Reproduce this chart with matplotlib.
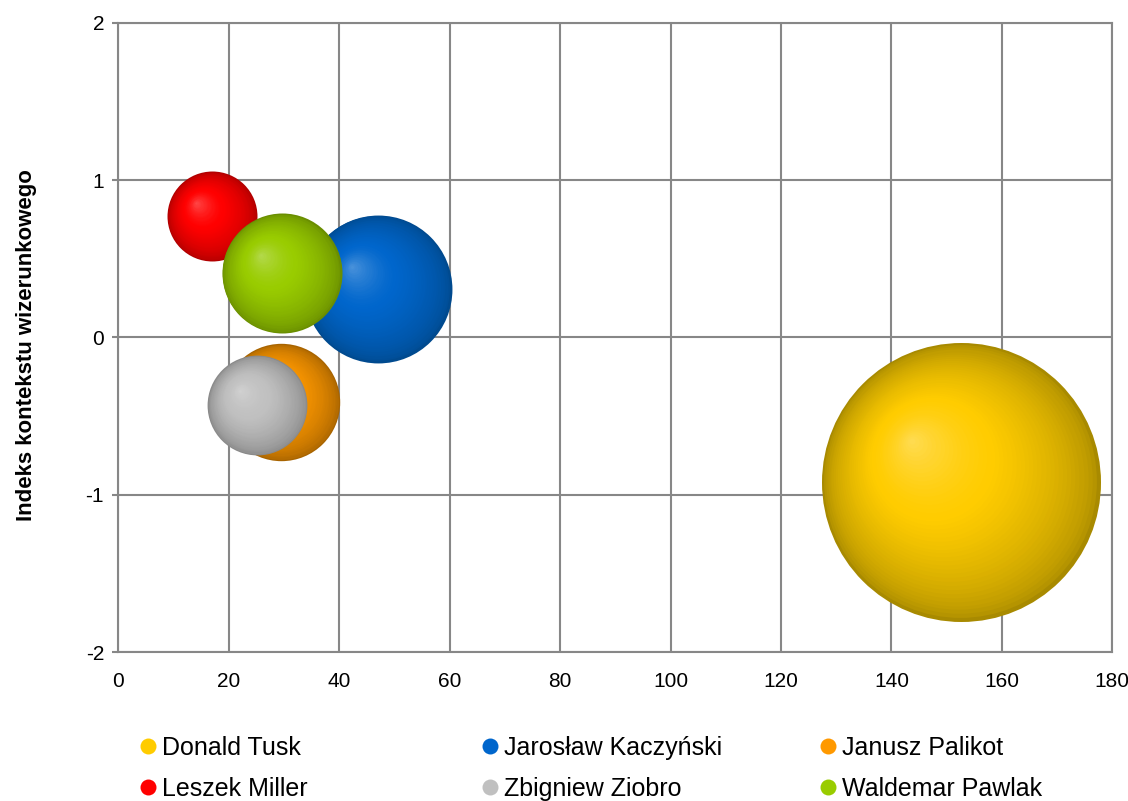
import numpy as np
import matplotlib
matplotlib.use("Agg")
import matplotlib.pyplot as plt
import matplotlib.transforms as mtransforms
from matplotlib.colors import to_rgb
from matplotlib.lines import Line2D

plt.rcParams['font.family'] = ['Liberation Sans', 'DejaVu Sans']
plt.rcParams['axes.unicode_minus'] = False

# Data
names = ["Donald Tusk", "Jarosław Kaczyński", "Janusz Palikot",
         "Leszek Miller", "Zbigniew Ziobro", "Waldemar Pawlak"]
x_vals = [152.6, 47.0, 29.5, 17.0, 25.2, 29.6]
y_vals = [-0.92, 0.31, -0.41, 0.77, -0.43, 0.41]
bubble_sizes = [100.0, 28.1, 17.7, 10.4, 12.8, 18.5]

# base / edge / highlight colours per series
base_colors = ["#FFCC00", "#0066CC", "#FF9900", "#FF0000", "#C0C0C0", "#99CC00"]
edge_colors = ["#A88A00", "#004A8F", "#A86400", "#B00000", "#8A8A8A", "#6A8E00"]
high_colors = ["#FFDC55", "#4D94DB", "#F0A030", "#FF4A4A", "#D2D2D2", "#B5DA50"]

DPI = 100
fig = plt.figure(figsize=(11.28, 8.01), dpi=DPI)
ax = fig.add_axes([0.1049, 0.1857, 0.8812, 0.786])

ax.set_xlim(0, 180)
ax.set_ylim(-2, 2)
ax.set_xticks(np.arange(0, 181, 20))
ax.set_yticks([-2, -1, 0, 1, 2])

grid_col = "#878787"
ax.grid(True, color=grid_col, linewidth=1.5)
ax.set_axisbelow(True)
for sp in ax.spines.values():
    sp.set_color(grid_col)
    sp.set_linewidth(1.5)
ax.tick_params(axis='y', length=4.3, width=1.5, color=grid_col, pad=6, labelsize=15)
ax.tick_params(axis='x', length=0, pad=14, labelsize=15)

ax.set_ylabel("Indeks kontekstu wizerunkowego", fontsize=16, fontweight='bold')
ax.yaxis.set_label_coords(-0.082, 0.488)


def blend(c1, c2, t):
    a = np.array(to_rgb(c1))
    b = np.array(to_rgb(c2))
    return tuple(a + (b - a) * t)


# largest bubble radius in pixels
R_MAX_PX = 139.5
n_layers = 45
for i in range(len(names)):
    r_px = R_MAX_PX * np.sqrt(bubble_sizes[i] / 100.0)
    hx, hy = -0.36 * r_px, 0.30 * r_px  # highlight offset (px, up positive)
    for k in range(n_layers):
        t = k / n_layers
        rad = r_px * (1 - t)
        if t < 0.55:
            col = blend(edge_colors[i], base_colors[i], (t / 0.55) ** 0.6)
        else:
            col = blend(base_colors[i], high_colors[i], ((t - 0.55) / 0.45) ** 1.5)
        off = mtransforms.ScaledTranslation(t * hx / DPI, t * hy / DPI,
                                            fig.dpi_scale_trans)
        d_pt = 2 * rad * 72 / DPI
        ax.scatter([x_vals[i]], [y_vals[i]], s=d_pt ** 2, color=col,
                   linewidths=0, transform=ax.transData + off, zorder=3)

# Legend in three columns
handles = [Line2D([], [], marker='o', linestyle='none', markersize=11.5,
                  markerfacecolor=c, markeredgewidth=0) for c in base_colors]
col_x = [0.1127, 0.4157, 0.7157]
for j in range(3):
    idx = [j, j + 3]
    fig.legend([handles[k] for k in idx], [names[k] for k in idx],
               loc='upper left', bbox_to_anchor=(col_x[j], 0.097),
               frameon=False, fontsize=18, handlelength=0.65,
               handletextpad=0.25, labelspacing=0.68, borderpad=0)

fig.savefig("out.png", dpi=DPI)
